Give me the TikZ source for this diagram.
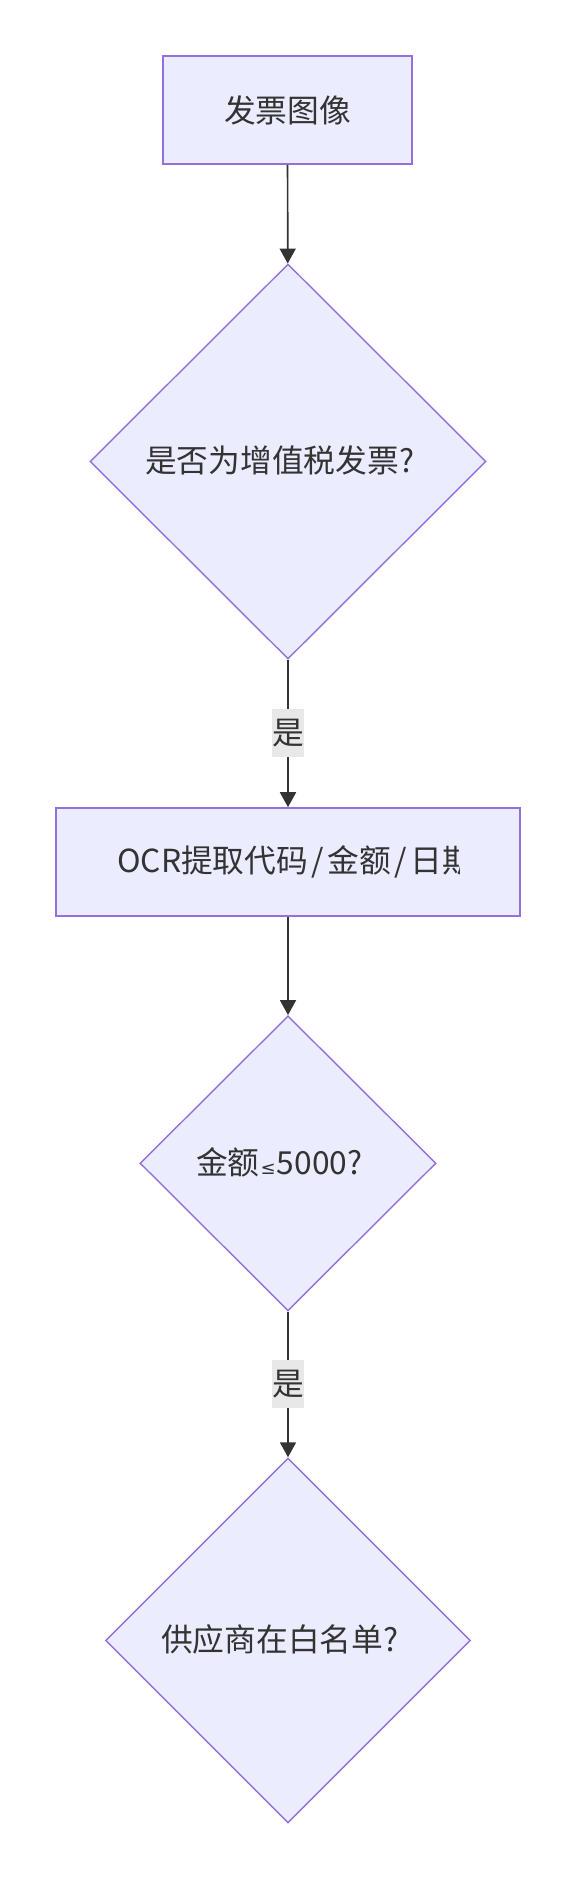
\documentclass[tikz,border=0pt]{standalone}
\usepackage{fontspec}
\setmainfont{Noto Sans CJK SC}
\newfontfamily\symfont{DejaVu Sans}
\usetikzlibrary{shapes.geometric,arrows.meta}
\definecolor{nodefill}{HTML}{ECECFF}
\definecolor{nodeline}{HTML}{9370DB}
\definecolor{ink}{HTML}{333333}
\definecolor{lblbg}{HTML}{E8E8E8}
\newcommand{\wslash}{\hspace{3.5pt}/\hspace{3.5pt}}
\begin{document}
\begin{tikzpicture}[x=1pt,y=-1pt,
  procbox/.style={draw=nodeline, fill=nodefill, line width=1.6pt, rectangle, inner sep=0pt,
    text=ink, font=\fontsize{31.75}{38}\selectfont},
  decision/.style={draw=nodeline, fill=nodefill, line width=1.4pt, diamond, aspect=1, inner sep=0pt},
  txt/.style={text=ink, font=\fontsize{31.75}{38}\selectfont, inner sep=0pt, anchor=west},
  flow/.style={draw=ink, line width=1.7pt, -{Triangle[length=15pt,width=16pt]}},
  elabel/.style={fill=lblbg, text=ink, font=\fontsize{31.75}{38}\selectfont, inner sep=0pt,
    minimum width=32pt, minimum height=48pt}
]
\useasboundingbox[fill=white] (0,0) rectangle (576,1878);

\node[procbox, minimum width=249pt, minimum height=108pt] (b1) at (287.5,110) {发票图像};
\node[decision, minimum width=396pt, minimum height=395pt] (d1) at (288,461.5) {};
\node[txt] (d1t) at (145,460) {是否为增值税发票?};
\node[procbox, minimum width=464pt, minimum height=108pt] (b2) at (288,862) {};
\begin{scope}
  \clip (56,808) rectangle (459,916);
  \node[txt] (b2t) at (117,862) {OCR提取代码\wslash 金额\wslash 日期};
\end{scope}
\node[decision, minimum width=296pt, minimum height=295pt] (d2) at (288,1163.3) {};
\node[txt] (d2t) at (196,1162) {金额\hspace{1pt}{\symfont\fontsize{18}{22}\selectfont ≤}\hspace{1pt}5000?};
\node[decision, minimum width=365pt, minimum height=365pt] (d3) at (288,1640.5) {};
\node[txt] (d3t) at (161,1639) {供应商在白名单?};

\draw[flow] (b1) -- (d1);
\draw[flow] (d1) -- (b2) node[elabel, pos=0.5] (l1) {是};
\draw[flow] (b2) -- (d2);
\draw[flow] (d2) -- (d3) node[elabel, pos=0.5] (l2) {是};
\end{tikzpicture}
\end{document}
